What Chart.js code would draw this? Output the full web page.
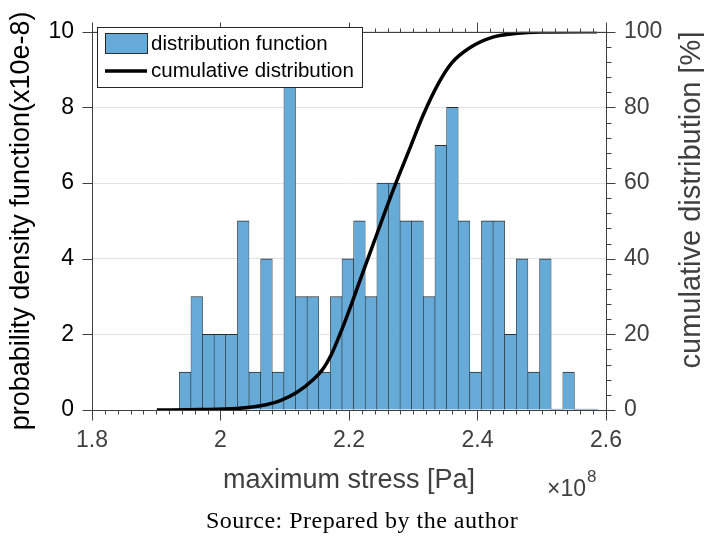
<!DOCTYPE html>
<html>
<head>
<meta charset="utf-8">
<title>Maximum stress distribution</title>
<script src="https://cdn.jsdelivr.net/npm/chart.js@4.4.1/dist/chart.umd.min.js"></script>
<style>
  html, body { margin: 0; padding: 0; background: #ffffff; }
  #c { display: block; }
</style>
</head>
<body>
<canvas id="c" width="704" height="537"></canvas>
<script>
// Histogram bins of maximum stress (stress in units of 1e8 Pa)
const binStart = 1.9359;
const binWidth = 0.018086;
// Probability density per bin (units of 1e-8)
const densityValues = [1, 3, 2, 2, 2, 5, 1, 4, 1, 9, 3, 3, 1, 3, 4, 5, 3, 6,
                       6, 5, 5, 3, 7, 8, 5, 1, 5, 5, 2, 4, 1, 4, 0, 1, 0, 0];
// Cumulative distribution curve: stress (1e8 Pa) and percentage
const cdfStress  = [1.901, 1.968, 2.026, 2.062, 2.093, 2.119, 2.144, 2.160, 2.172, 2.183,
                    2.194, 2.205, 2.215, 2.225, 2.244, 2.259, 2.276, 2.295, 2.315, 2.339,
                    2.360, 2.388, 2.424, 2.462, 2.497, 2.586];
const cdfPercent = [0, 0.1, 0.4, 1.1, 2.5, 4.7, 8.0, 11.0, 14.5, 18.8,
                    23.5, 28.5, 33.3, 38.0, 46.8, 53.8, 61.3, 69.3, 77.8, 86.3,
                    91.8, 95.8, 98.6, 99.6, 99.92, 100];
// Axis ticks
const stressTicks  = [1.8, 2.0, 2.2, 2.4, 2.6];
const densityTicks = [0, 2, 4, 6, 8, 10];
const percentTicks = [0, 20, 40, 60, 80, 100];

const binCenters = densityValues.map((_, i) => binStart + (i + 0.5) * binWidth);

const AXIS_GRAY = '#404040';
const SANS = "'Liberation Sans', Arial, Helvetica, sans-serif";
const BAR_FILL = '#66aad7';
const BAR_EDGE = 'rgba(25,25,25,0.9)';
const RIGHT_TITLE = 'cumulative distribution [%]';

// Box, tick marks, legend, right-axis title, exponent and footer text
const framePlugin = {
  id: 'frame',
  afterDraw(chart) {
    const { ctx, chartArea: a, scales } = chart;
    const xs = scales.x, yl = scales.y, yr = scales.yR;
    const px = v => Math.round(v) + 0.5;
    ctx.save();
    ctx.strokeStyle = AXIS_GRAY;
    ctx.lineWidth = 1;
    ctx.beginPath();
    // box
    ctx.moveTo(px(a.left), px(a.top)); ctx.lineTo(px(a.right), px(a.top));
    ctx.lineTo(px(a.right), px(a.bottom)); ctx.lineTo(px(a.left), px(a.bottom));
    ctx.lineTo(px(a.left), px(a.top));
    // x ticks (bottom and top), minor every 0.02
    const xMin = stressTicks[0], xMax = stressTicks[stressTicks.length - 1];
    const nx = Math.round((xMax - xMin) / 0.02);
    for (let k = 0; k <= nx; k++) {
      const x = px(xs.getPixelForValue(xMin + k * 0.02));
      const len = (k % 10 === 0) ? 10 : 4;
      ctx.moveTo(x, px(a.bottom)); ctx.lineTo(x, px(a.bottom) + len);
      ctx.moveTo(x, px(a.top)); ctx.lineTo(x, px(a.top) - len);
    }
    // left ticks
    densityTicks.forEach(v => {
      const y = px(yl.getPixelForValue(v));
      ctx.moveTo(px(a.left), y); ctx.lineTo(px(a.left) - 10, y);
    });
    // right ticks, minor every 4
    for (let v = 0; v <= 100; v += 4) {
      const y = px(yr.getPixelForValue(v));
      const len = (v % 20 === 0) ? 9 : 5;
      ctx.moveTo(px(a.right), y); ctx.lineTo(px(a.right) + len, y);
    }
    ctx.stroke();

    // legend
    const bars = chart.data.datasets.find(d => d.type === 'bar');
    const line = chart.data.datasets.find(d => d.type === 'line');
    const lx = 97, ly = 27, lw = 265, lh = 60;
    ctx.fillStyle = '#ffffff';
    ctx.fillRect(lx, ly, lw, lh);
    ctx.strokeStyle = '#262626';
    ctx.strokeRect(lx + 0.5, ly + 0.5, lw, lh);
    ctx.fillStyle = BAR_FILL;
    ctx.fillRect(105, 33, 42, 20);
    ctx.strokeStyle = BAR_EDGE;
    ctx.strokeRect(105.5, 33.5, 42, 20);
    ctx.beginPath();
    ctx.strokeStyle = '#000';
    ctx.lineWidth = 3.5;
    ctx.moveTo(105, 71); ctx.lineTo(147, 71);
    ctx.stroke();
    ctx.fillStyle = '#000';
    ctx.font = `20.5px ${SANS}`;
    ctx.textBaseline = 'middle';
    ctx.textAlign = 'left';
    ctx.fillText(bars.label, 151, 44);
    ctx.fillText(line.label, 151, 71);

    // right-axis title, reading bottom to top
    ctx.save();
    ctx.translate(692, 200);
    ctx.rotate(-Math.PI / 2);
    ctx.textAlign = 'center';
    ctx.textBaseline = 'middle';
    ctx.fillStyle = AXIS_GRAY;
    ctx.font = `29px ${SANS}`;
    ctx.fillText(RIGHT_TITLE, 0, 0);
    ctx.restore();

    // exponent of the stress axis
    ctx.fillStyle = AXIS_GRAY;
    ctx.textAlign = 'left';
    ctx.textBaseline = 'alphabetic';
    ctx.font = `23px ${SANS}`;
    const base = '\u00d710';
    ctx.fillText(base, 547, 496);
    const bw = ctx.measureText(base).width;
    ctx.font = `17px ${SANS}`;
    ctx.fillText('8', 547 + bw + 1, 482);

    // footer
    ctx.fillStyle = '#000';
    ctx.textAlign = 'center';
    ctx.font = "24px 'Liberation Serif', 'Times New Roman', serif";
    try { ctx.letterSpacing = '0.5px'; } catch (e) {}
    ctx.fillText('Source: Prepared by the author', 362, 528);
    ctx.restore();
  }
};

new Chart(document.getElementById('c'), {
  type: 'bar',
  data: {
    datasets: [
      {
        type: 'line',
        label: 'cumulative distribution',
        data: cdfStress.map((x, i) => ({ x, y: cdfPercent[i] })),
        yAxisID: 'yR',
        borderColor: '#000000',
        borderWidth: 3.5,
        pointRadius: 0,
        cubicInterpolationMode: 'monotone',
        fill: false,
        order: 0
      },
      {
        type: 'bar',
        label: 'distribution function',
        data: binCenters.map((x, i) => ({ x, y: densityValues[i] })),
        yAxisID: 'y',
        backgroundColor: BAR_FILL,
        borderColor: BAR_EDGE,
        borderWidth: { top: 1, left: 0.6, right: 0.6, bottom: 0 },
        borderSkipped: false,
        barPercentage: 1,
        categoryPercentage: 1,
        minBarLength: 1,
        order: 1
      }
    ]
  },
  options: {
    responsive: false,
    animation: false,
    devicePixelRatio: 1,
    layout: { padding: { top: 25, left: 0, right: 0, bottom: 0 } },
    plugins: {
      legend: { display: false },
      tooltip: { enabled: false }
    },
    scales: {
      x: {
        type: 'linear',
        position: 'bottom',
        min: stressTicks[0],
        max: stressTicks[stressTicks.length - 1],
        offset: false,
        afterBuildTicks: s => { s.ticks = stressTicks.map(v => ({ value: v })); },
        ticks: {
          callback: v => String(Math.round(v * 10) / 10),
          color: AXIS_GRAY,
          font: { family: SANS, size: 23 },
          padding: 17,
          maxRotation: 0,
          autoSkip: false
        },
        grid: { display: false, drawTicks: false },
        border: { display: true, color: AXIS_GRAY },
        title: {
          display: true,
          text: 'maximum stress [Pa]',
          color: AXIS_GRAY,
          font: { family: SANS, size: 27 },
          padding: { top: 0, bottom: 40 }
        },
        afterFit: s => { s.height = 127; }
      },
      y: {
        position: 'left',
        min: 0,
        max: 10,
        afterBuildTicks: s => { s.ticks = densityTicks.map(v => ({ value: v })); },
        ticks: {
          color: '#000000',
          font: { family: SANS, size: 23 },
          padding: 18
        },
        grid: { color: '#e2e2e2', drawTicks: false },
        border: { display: true, color: AXIS_GRAY },
        title: {
          display: true,
          text: 'probability density function(x10e-8)',
          color: '#000000',
          font: { family: SANS, size: 27 },
          padding: { top: 5, bottom: 0 }
        },
        afterFit: s => { s.width = 92; }
      },
      yR: {
        position: 'right',
        min: 0,
        max: 100,
        afterBuildTicks: s => { s.ticks = percentTicks.map(v => ({ value: v })); },
        ticks: {
          color: AXIS_GRAY,
          font: { family: SANS, size: 23 },
          padding: 18
        },
        grid: { display: false, drawTicks: false },
        border: { display: true, color: AXIS_GRAY },
        title: { display: false },
        afterFit: s => { s.width = 98; }
      }
    }
  },
  plugins: [framePlugin]
});
</script>
</body>
</html>
